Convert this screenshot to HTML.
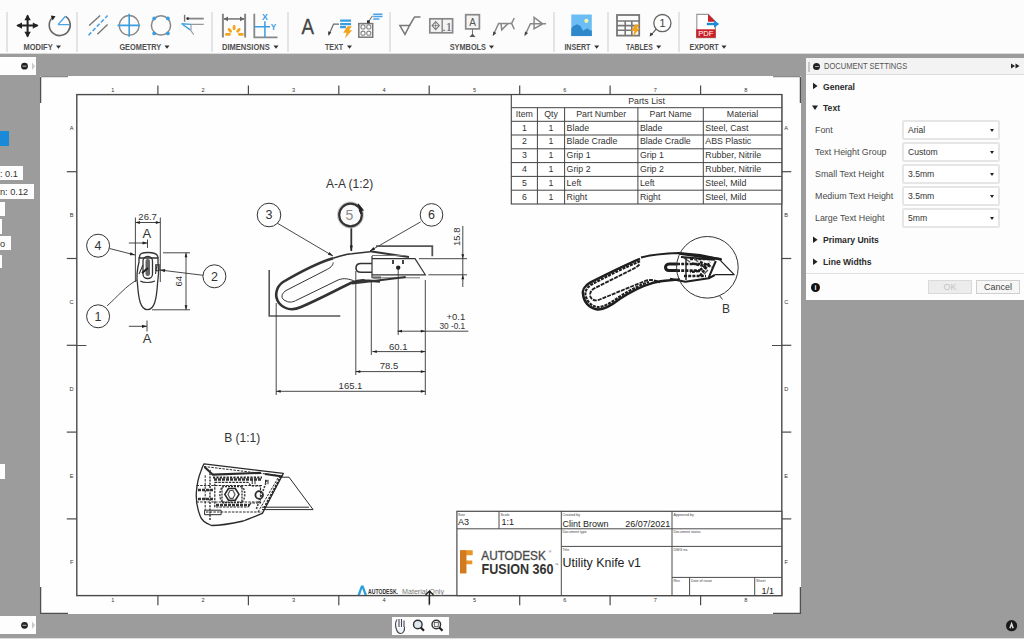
<!DOCTYPE html><html><head><meta charset="utf-8"><style>
*{margin:0;padding:0;box-sizing:border-box}
html,body{width:1024px;height:639px;overflow:hidden;background:#9c9c9c;font-family:"Liberation Sans",sans-serif}
.abs{position:absolute}
#tb{left:0;top:0;width:1024px;height:54px;background:#fcfcfc;border-bottom:1.5px solid #dadada}
.sep{position:absolute;top:12px;width:2px;height:40px;background:#e4e4e4}
.lbl{position:absolute;top:42px;font-size:8.6px;color:#4a4a4a;white-space:nowrap;font-weight:bold}
.lbl:after{content:"";display:inline-block;margin-left:3px;border-left:3px solid transparent;border-right:3px solid transparent;border-top:4px solid #333;vertical-align:2px}
#sheet{left:40px;top:76px;width:760.5px;height:538px;background:#fefefe}
svg text{font-family:"Liberation Sans",sans-serif}
#panel{left:806px;top:58px;width:218px;height:241.7px;background:#fdfdfd}
#ph{position:absolute;left:0;top:0;width:218px;height:17px;background:#f3f3f3;border-bottom:1px solid #dcdcdc}
.pt{position:absolute;font-size:8.9px;color:#4a4a4a;white-space:nowrap}
.pb{color:#2a2a2a;font-size:8.6px}
.pb{font-weight:bold}
.dd{position:absolute;left:96px;width:98px;height:20px;border:2px solid #e6e6e6;background:#fff;font-size:8.6px;color:#333;padding:3.2px 0 0 4px;border-radius:2px}
.dd:after{content:"";position:absolute;right:4px;top:7px;border-left:2.5px solid transparent;border-right:2.5px solid transparent;border-top:3.5px solid #222}
.lb{position:absolute;background:#fdfdfd;font-size:9.2px;color:#333;white-space:nowrap;text-align:right;padding-top:3px;overflow:hidden}
</style></head><body>
<div id="tb" class="abs">
<div class="sep" style="left:6px"></div>
<div class="sep" style="left:76px"></div>
<div class="sep" style="left:211px"></div>
<div class="sep" style="left:287px"></div>
<div class="sep" style="left:389px"></div>
<div class="sep" style="left:553px"></div>
<div class="sep" style="left:607px"></div>
<div class="sep" style="left:678px"></div>
<svg class="abs" style="left:0;top:0" width="1024" height="53"><text x="23.5" y="50.4" font-size="9.4" font-weight="bold" fill="#505050" textLength="29.2" lengthAdjust="spacingAndGlyphs">MODIFY</text><path d="M56 45.6H61L58.5 48.8Z" fill="#333"/><text x="119.4" y="50.4" font-size="9.4" font-weight="bold" fill="#505050" textLength="41.9" lengthAdjust="spacingAndGlyphs">GEOMETRY</text><path d="M164.5 45.6H169.5L167.0 48.8Z" fill="#333"/><text x="222" y="50.4" font-size="9.4" font-weight="bold" fill="#505050" textLength="47.8" lengthAdjust="spacingAndGlyphs">DIMENSIONS</text><path d="M273.5 45.6H278.5L276.0 48.8Z" fill="#333"/><text x="325" y="50.4" font-size="9.4" font-weight="bold" fill="#505050" textLength="18.0" lengthAdjust="spacingAndGlyphs">TEXT</text><path d="M347 45.6H352L349.5 48.8Z" fill="#333"/><text x="449.7" y="50.4" font-size="9.4" font-weight="bold" fill="#505050" textLength="36.3" lengthAdjust="spacingAndGlyphs">SYMBOLS</text><path d="M489 45.6H494L491.5 48.8Z" fill="#333"/><text x="564.4" y="50.4" font-size="9.4" font-weight="bold" fill="#505050" textLength="26.0" lengthAdjust="spacingAndGlyphs">INSERT</text><path d="M594.2 45.6H599.2L596.7 48.8Z" fill="#333"/><text x="626" y="50.4" font-size="9.4" font-weight="bold" fill="#505050" textLength="26.7" lengthAdjust="spacingAndGlyphs">TABLES</text><path d="M656.2 45.6H661.2L658.7 48.8Z" fill="#333"/><text x="689.5" y="50.4" font-size="9.4" font-weight="bold" fill="#505050" textLength="29.2" lengthAdjust="spacingAndGlyphs">EXPORT</text><path d="M721.5 45.6H726.5L724.0 48.8Z" fill="#333"/></svg>
</div>
<svg class="abs" style="left:0;top:0" width="1024" height="53" viewBox="0 0 1024 53">
<g fill="none" stroke-linecap="butt">
<!-- move -->
<path d="M17.5 25.6H37.5M27.6 15.5V36.5" stroke="#222" stroke-width="2"/>
<path d="M16.2 25.6L22 22.4V28.8Z M38.6 25.6L32.8 22.4V28.8Z M27.6 14.4L24.4 20.2H30.8Z M27.6 37.6L24.4 31.8H30.8Z" fill="#222"/>
<!-- rotate -->
<path d="M65.6 16.4A10.5 10.5 0 1 1 52.5 17.5" stroke="#666" stroke-width="1.6"/>
<path d="M50.8 15.5L55.5 16.2L52.6 20.5Z" fill="#222"/>
<path d="M58 24.6L65.4 16.2M58 24.6H69.6" stroke="#4aa3e6" stroke-width="1.4"/>
<!-- centerline -->
<path d="M89.2 25.4L100.1 15.5M97.4 34.3L107.6 24.4" stroke="#777" stroke-width="1.4"/>
<path d="M88.5 35.3L107.6 15.5" stroke="#4aa3e6" stroke-width="1.6" stroke-dasharray="4 2"/>
<!-- center mark -->
<circle cx="129.2" cy="25.4" r="9.9" stroke="#8a8a8a" stroke-width="1.4"/>
<path d="M117.5 25.4H140.1M129.2 13.8V36.7" stroke="#3a9de0" stroke-width="1.6"/>
<!-- bolt circle -->
<circle cx="161" cy="25.4" r="9.6" stroke="#888" stroke-width="1.5"/>
<g fill="#3a9de0"><circle cx="154.2" cy="18.4" r="1.9"/><circle cx="167.9" cy="18.4" r="1.9"/><circle cx="154.2" cy="33.4" r="1.9"/><circle cx="167.9" cy="33.4" r="1.9"/></g>
<!-- edge extension -->
<path d="M184.6 14.8V21.7" stroke="#777" stroke-width="1.4"/>
<path d="M187.7 18.6H203.8" stroke="#888" stroke-width="1.8"/>
<circle cx="187.7" cy="18.6" r="1.4" fill="#333"/>
<path d="M191.1 24.4H203.8M190.4 29.9L193.8 34.7M191 24.4V30" stroke="#999" stroke-width="1.1"/>
<path d="M181.5 23.7L190.4 29.9M181.5 23.7L191 24.4" stroke="#3a9de0" stroke-width="1.4"/>
<!-- dimension -->
<path d="M222.9 13.8V37.4M245.1 13.8V37.4" stroke="#888" stroke-width="2"/>
<path d="M224 18.9H244" stroke="#888" stroke-width="1.8"/>
<path d="M223.5 18.9L228 16.5V21.3Z M244.5 18.9L240 16.5V21.3Z" fill="#666"/>
<g stroke="#f2a41c" stroke-width="2.8" stroke-linecap="round">
<path d="M226.4 34.4H229.4M239.4 34.4H242.4M229 29.4L230.6 31.2M234.1 26.4V28.8M239.2 29.4L237.6 31.2"/>
</g>
<!-- ordinate -->
<path d="M254.3 13.8V37.4H277.5" stroke="#888" stroke-width="1.8"/>
<path d="M264.9 21.3V37.4M254.3 26.8H270" stroke="#3a9de0" stroke-width="1.5"/>
<text x="264.9" y="20" font-size="8.8" font-weight="bold" fill="#3a9de0" text-anchor="middle" stroke="none">X</text>
<text x="273.6" y="29.8" font-size="8.2" font-weight="bold" fill="#3a9de0" text-anchor="middle" stroke="none">Y</text>
<!-- text A -->
<text x="0" y="0" transform="translate(307.8 34.1) scale(0.86 1)" font-size="21.8" fill="#444" text-anchor="middle" stroke="#444" stroke-width="0.35">A</text>
<!-- leader note -->
<path d="M329 34.5L333.6 24.1H339" stroke="#666" stroke-width="1.2"/>
<path d="M328.3 35.8L328.2 31.2L331.3 32.5Z" fill="#333"/>
<path d="M340.1 20.6H351M340.1 24.1H351M340.1 27.2H346" stroke="#3a9de0" stroke-width="2.2"/>
<path d="M347.5 26.3H351.8L349 30.2H352.2L345 38.2L346.6 32.8H343.2Z" fill="#f2a41c"/>
<!-- bolt hole note -->
<rect x="358.8" y="23.6" width="13.9" height="13.6" stroke="#777" stroke-width="1.5"/>
<g stroke="#888" stroke-width="1.1"><circle cx="363" cy="26.9" r="2.1"/><circle cx="368.8" cy="26.9" r="2.1"/><circle cx="363" cy="33.2" r="2.1"/><circle cx="368.8" cy="33.2" r="2.1"/></g>
<path d="M368.5 21.7L372.5 15.8" stroke="#555" stroke-width="1"/>
<rect x="367" y="20.3" width="2.8" height="2.8" fill="#333"/>
<path d="M373.2 14.2H382.5M373.2 16.6H382.5M373.2 19H379.4" stroke="#4aa3e6" stroke-width="1.5"/>
<!-- surface texture -->
<path d="M399.9 25.5H409.5L405 34.4Z" stroke="#777" stroke-width="1.5"/>
<path d="M409.5 25.5L414.6 16.9H420.5" stroke="#777" stroke-width="1.5"/>
<!-- fcf -->
<rect x="429.8" y="18.8" width="22.8" height="14" stroke="#888" stroke-width="1.7" fill="#f3f3f3"/>
<path d="M442.2 18.8V32.8" stroke="#888" stroke-width="1.5"/>
<path d="M435.7 21.5L439.3 25.6L435.7 29.7L432.1 25.6Z" stroke="#777" stroke-width="1.1"/>
<path d="M432.4 25.6H439M435.7 22.3V29" stroke="#777" stroke-width="0.8"/>
<text x="447.3" y="31" font-size="12.5" font-family="Liberation Serif" fill="#555" text-anchor="middle" stroke="none" style="font-family:'Liberation Serif',serif">.1</text>
<!-- datum -->
<rect x="465.7" y="14.7" width="13.7" height="14.2" stroke="#888" stroke-width="1.7" fill="#f3f3f3"/>
<text x="472.5" y="26" font-size="10" fill="#555" text-anchor="middle" stroke="none">A</text>
<path d="M472.5 28.9V34" stroke="#777" stroke-width="1"/>
<path d="M469.5 37H475.5L472.5 33.6Z" fill="#555"/>
<!-- weld -->
<path d="M493.8 34L498.6 23.4H511.6M501 23.4L501.7 29.9L508.2 23.4M511.6 23.4L514.3 18M511.6 23.4L514.3 29.2" stroke="#888" stroke-width="1.5"/>
<path d="M492.6 36.2L493.4 31.4L496.4 32.9Z" fill="#444"/>
<!-- taper -->
<path d="M525.5 34L530.4 23.8H546.1M534.1 17.3L542.7 23.8L534.1 28.6Z" stroke="#888" stroke-width="1.5"/>
<path d="M524.4 36.2L525 31.4L528.1 32.9Z" fill="#444"/>
<!-- image -->
<rect x="571.3" y="14.5" width="20.5" height="21.6" fill="#6cbdf4"/>
<path d="M571.3 28.5L573 26.2L577 24.2L580.5 26L583 30.8L585 29.5L587.5 28.2L590 30.5L591.8 30.2V36.1H571.3Z" fill="#2f88c9"/>
<circle cx="586.4" cy="20.8" r="2.1" fill="#f6f4a8"/>
<!-- table -->
<rect x="617" y="15" width="22.2" height="20.6" stroke="#777" stroke-width="1.8"/>
<path d="M617 21H639.2M617 25.6H639.2M617 30.3H639.2M625.2 21V35.6M631.8 21V35.6" stroke="#777" stroke-width="1.6"/>
<path d="M635.3 24.6H639.6L636.8 28.5H640L632.8 36.5L634.4 31.1H631Z" fill="#f2a41c"/>
<!-- balloon -->
<circle cx="662.4" cy="23.1" r="8.6" stroke="#666" stroke-width="1.3" fill="#fff"/>
<text x="662.4" y="27.3" font-size="11.5" fill="#444" text-anchor="middle" stroke="none">1</text>
<path d="M656.2 29.2L651 35" stroke="#555" stroke-width="1.1"/>
<path d="M649.6 36.6L650.5 32.4L653.2 34.6Z" fill="#333"/>
<!-- pdf -->
<path d="M696.8 14.4H708.2L715.4 21.6V37.6H696.8Z" stroke="#999" stroke-width="1.2" fill="#fff"/>
<path d="M708 13.9L715.6 21.8H708Z" fill="#cc1f26"/>
<rect x="696.2" y="29.3" width="19.4" height="8.4" fill="#cc1f26"/>
<text x="705.9" y="36.3" font-size="7.6" fill="#fff" text-anchor="middle" stroke="none">PDF</text>
<path d="M706.8 24H715" stroke="#1f8ad8" stroke-width="2.4"/>
<path d="M719.2 24L714 20.3V27.7Z" fill="#1f8ad8"/>
</g>
</svg>
<div class="lb" style="left:0px;top:57px;width:36px;height:18px;padding-right:0px"></div>
<div class="lb" style="left:0px;top:131px;width:9px;height:15px;background:#1a8ad8"></div>
<div class="lb" style="left:0px;top:166px;width:23px;height:14px;padding-right:7px">: 0.1</div>
<div class="lb" style="left:0px;top:184px;width:34px;height:15px;padding-right:7px">n: 0.12</div>
<div class="lb" style="left:0px;top:202px;width:5px;height:14px;padding-right:0px"></div>
<div class="lb" style="left:0px;top:219px;width:2px;height:15px;padding-right:0px"></div>
<div class="lb" style="left:0px;top:236px;width:11px;height:14px;padding-right:7px">o</div>
<div class="lb" style="left:0px;top:255px;width:2px;height:13px;padding-right:0px"></div>
<div class="lb" style="left:0px;top:464px;width:5px;height:15px;padding-right:0px"></div>
<div class="lb" style="left:0px;top:616px;width:36px;height:18px;padding-right:0px"></div>
<div class="abs" style="left:0;top:637.5px;width:1024px;height:1.5px;background:#dcdcdc"></div>
<div class="abs" style="left:391.5px;top:617px;width:57px;height:17.5px;background:#fdfdfd"></div>
<svg class="abs" style="left:0;top:0" width="1024" height="639" viewBox="0 0 1024 639">
<path d="M396 628C395 624 396 621 397 619.5M399 627V619M401.5 627V619M404 627V620.5M396 628C397 632 399 633.5 400.5 633.5C403 633.5 405 631 404.5 627" stroke="#445" stroke-width="1.1" fill="#eef3f6"/>
<circle cx="417.8" cy="624.5" r="4.3" stroke="#333" stroke-width="1.4" fill="#dde9f1"/>
<path d="M420.8 627.5L424 630.7" stroke="#222" stroke-width="2.2"/>
<circle cx="436.3" cy="624.5" r="4.3" stroke="#333" stroke-width="1.4" fill="#f3f3f3"/>
<rect x="434.3" y="622.5" width="4" height="4" stroke="#555" stroke-width="0.8" fill="none"/>
<path d="M439.3 627.5L442.5 630.7" stroke="#222" stroke-width="2.2"/>
<circle cx="1011.6" cy="625.7" r="5.6" fill="#1a1a1a"/>
<path d="M1010 628.3L1011.6 623.8L1013.2 628.3" stroke="#ddd" stroke-width="1.5" fill="none"/>
<circle cx="24.5" cy="66.2" r="3.4" fill="#222"/><path d="M22.5 66.2H26.5" stroke="#bbb" stroke-width="1"/>
<path d="M32 62.5V70L35 66.2Z" fill="#c9c9c9"/>
<circle cx="24.5" cy="625.3" r="3.4" fill="#222"/><path d="M22.5 625.3H26.5" stroke="#bbb" stroke-width="1"/>
<path d="M32 621.5V629L35 625.3Z" fill="#c9c9c9"/>
</svg>
<div id="sheet" class="abs"></div>
<div id="panel" class="abs">
  <div id="ph"></div>
  <div class="pt" style="left:18px;top:3px;color:#555;font-size:8.4px;transform:scaleX(0.9);transform-origin:left">DOCUMENT SETTINGS</div>
  <div class="abs" style="left:2px;top:4px;width:2px;height:10px;background:#c8c8c8"></div>
  <div class="abs" style="left:7px;top:5px;width:7px;height:7px;border-radius:50%;background:#222"></div>
  <div class="abs" style="left:8.5px;top:8px;width:4px;height:1.2px;background:#aaa"></div>
  <div class="abs" style="left:0;top:215px;width:218px;height:1px;background:#dedede"></div>
  <div class="abs" style="left:5px;top:225px;width:9px;height:9px;border-radius:50%;background:#111;color:#fff;font-size:7px;font-weight:bold;text-align:center;line-height:9px">i</div>
  <div class="abs" style="left:122px;top:222px;width:44px;height:14px;background:#ececec;border:1px solid #dadada;color:#c4c4c4;font-size:9px;text-align:center;line-height:12px">OK</div>
  <div class="abs" style="left:170px;top:222px;width:44px;height:14px;background:#f6f6f6;border:1px solid #cfcfcf;color:#444;font-size:9px;text-align:center;line-height:12px">Cancel</div>
  <svg class="abs" style="left:0;top:0" width="218" height="241">
    <path d="M205 63.5V68.5L209 66Z M209.5 63.5V68.5L213.5 66Z" transform="translate(0 -58)" fill="#222"/>
    <path d="M7 24.8V31.2L11.6 28Z" fill="#222"/>
    <path d="M6 47.5H12L9 52Z" fill="#222"/>
    <path d="M7 178.6V185L11.6 181.8Z" fill="#222"/>
    <path d="M7 200.6V207L11.6 203.8Z" fill="#222"/>
  </svg>
  <div class="pt pb" style="left:17px;top:24px">General</div>
  <div class="pt pb" style="left:17px;top:45px">Text</div>
  <div class="pt" style="left:9px;top:67px">Font</div>
  <div class="dd" style="top:62px">Arial</div>
  <div class="pt" style="left:9px;top:89px">Text Height Group</div>
  <div class="dd" style="top:84px">Custom</div>
  <div class="pt" style="left:9px;top:111px">Small Text Height</div>
  <div class="dd" style="top:106px">3.5mm</div>
  <div class="pt" style="left:9px;top:133px">Medium Text Height</div>
  <div class="dd" style="top:128px">3.5mm</div>
  <div class="pt" style="left:9px;top:155px">Large Text Height</div>
  <div class="dd" style="top:150px">5mm</div>
  <div class="pt pb" style="left:17px;top:177px">Primary Units</div>
  <div class="pt pb" style="left:17px;top:199px">Line Widths</div>
</div>
<svg class="abs" style="left:0;top:0" width="1024" height="639" viewBox="0 0 1024 639"><g stroke="#505050" stroke-width="1.3" fill="none"><path d="M40.6 103V77"/><path d="M800.4 77V103"/><path d="M40.6 587V613.4H68"/><path d="M773 613.4H800.4V587"/><path d="M40.6 76.6H68M773 76.6H800.4" stroke="#8a8a8a"/></g><rect x="76.8" y="94.6" width="705.0" height="501.0" fill="none" stroke="#4a4a4a" stroke-width="1.4"/><g stroke="#4a4a4a" stroke-width="1.2"><line x1="157.9" y1="85.4" x2="157.9" y2="94.6"/><line x1="157.9" y1="595.6" x2="157.9" y2="605.3"/><line x1="248.4" y1="85.4" x2="248.4" y2="94.6"/><line x1="248.4" y1="595.6" x2="248.4" y2="605.3"/><line x1="338.8" y1="85.4" x2="338.8" y2="94.6"/><line x1="338.8" y1="595.6" x2="338.8" y2="605.3"/><line x1="429.2" y1="85.4" x2="429.2" y2="94.6"/><line x1="429.2" y1="595.6" x2="429.2" y2="605.3"/><line x1="519.7" y1="85.4" x2="519.7" y2="94.6"/><line x1="519.7" y1="595.6" x2="519.7" y2="605.3"/><line x1="610.1" y1="85.4" x2="610.1" y2="94.6"/><line x1="610.1" y1="595.6" x2="610.1" y2="605.3"/><line x1="700.6" y1="85.4" x2="700.6" y2="94.6"/><line x1="700.6" y1="595.6" x2="700.6" y2="605.3"/><line x1="66.8" y1="171.7" x2="76.8" y2="171.7"/><line x1="781.8" y1="171.7" x2="791.3" y2="171.7"/><line x1="66.8" y1="258.5" x2="76.8" y2="258.5"/><line x1="781.8" y1="258.5" x2="791.3" y2="258.5"/><line x1="66.8" y1="345.3" x2="76.8" y2="345.3"/><line x1="781.8" y1="345.3" x2="791.3" y2="345.3"/><line x1="66.8" y1="432.1" x2="76.8" y2="432.1"/><line x1="781.8" y1="432.1" x2="791.3" y2="432.1"/><line x1="66.8" y1="518.9" x2="76.8" y2="518.9"/><line x1="781.8" y1="518.9" x2="791.3" y2="518.9"/><line x1="76" y1="345.5" x2="86.4" y2="345.5" stroke-width="1"/><line x1="772" y1="345.5" x2="782.5" y2="345.5" stroke-width="1"/></g><g font-size="5.6" fill="#333" text-anchor="middle"><text x="112.7" y="91.8">1</text><text x="112.7" y="602.4">1</text><text x="203.1" y="91.8">2</text><text x="203.1" y="602.4">2</text><text x="293.6" y="91.8">3</text><text x="293.6" y="602.4">3</text><text x="384.0" y="91.8">4</text><text x="384.0" y="602.4">4</text><text x="474.5" y="91.8">5</text><text x="474.5" y="602.4">5</text><text x="564.9" y="91.8">6</text><text x="564.9" y="602.4">6</text><text x="655.4" y="91.8">7</text><text x="655.4" y="602.4">7</text><text x="745.8" y="91.8">8</text><text x="745.8" y="602.4">8</text><text x="71.6" y="130.3">A</text><text x="786.2" y="130.3">A</text><text x="71.6" y="217.1">B</text><text x="786.2" y="217.1">B</text><text x="71.6" y="303.9">C</text><text x="786.2" y="303.9">C</text><text x="71.6" y="390.7">D</text><text x="786.2" y="390.7">D</text><text x="71.6" y="477.5">E</text><text x="786.2" y="477.5">E</text><text x="71.6" y="564.3">F</text><text x="786.2" y="564.3">F</text></g><g stroke="#333" stroke-width="0.9" fill="none"><line x1="135.4" y1="217.5" x2="135.4" y2="282"/><line x1="160.3" y1="217.5" x2="160.3" y2="282"/><line x1="135.4" y1="222.5" x2="160.3" y2="222.5"/><line x1="163" y1="252.8" x2="190" y2="252.8"/><line x1="152" y1="309.8" x2="190" y2="309.8"/><line x1="186" y1="252.8" x2="186" y2="309.8"/><line x1="128.8" y1="243" x2="147.5" y2="243"/><line x1="147.5" y1="239.5" x2="147.5" y2="248"/><line x1="128.8" y1="326.3" x2="147" y2="326.3"/><line x1="147" y1="320.5" x2="147" y2="331.5"/><path d="M109.5 248.5L135 255"/><path d="M225.3 278L160 270"/><path d="M107 306C118 296 126 286 137 280"/><path stroke-width="1.3" d="M139.5 258C139 253 143 252.5 148 252.5C153 252.5 158 253 158 258"/><path stroke-width="1.3" d="M139 258L139 262C137 270 136.5 278 137.5 284C138.5 299 140.5 309.6 147.5 309.6C154.5 309.6 156.5 299 157.5 284C158.5 278 159 270 158 262L158 258Z"/><path stroke-width="1.1" d="M140.3 281C143 283 151 283 155 281"/><path stroke-width="1.1" d="M139 274L143 265M155.5 274L157 265"/><rect x="143" y="256.5" width="9.5" height="22" rx="4.5" stroke-width="1.3"/><rect x="155.7" y="264.7" width="3.5" height="6" stroke-width="1"/></g><rect x="145.5" y="259" width="4.5" height="17" rx="2" fill="#666"/><path d="M142 273L148 268" stroke="#222" stroke-width="2"/><path d="M135.0 255.0L129.8 255.3L130.5 252.2Z" fill="#222"/><path d="M160.0 270.0L165.2 269.0L164.8 272.2Z" fill="#222"/><path d="M147.5 243.0L142.5 244.6L142.5 241.4Z" fill="#222"/><path d="M147.0 326.3L142.0 327.9L142.0 324.7Z" fill="#222"/><path d="M186.0 252.8L187.4 257.3L184.6 257.3Z" fill="#222"/><path d="M186.0 309.8L184.6 305.3L187.4 305.3Z" fill="#222"/><path d="M135.4 222.5L139.9 221.1L139.9 223.9Z" fill="#222"/><path d="M160.3 222.5L155.8 223.9L155.8 221.1Z" fill="#222"/><g fill="#333" text-anchor="middle"><text x="147.6" y="220.3" font-size="9.5">26.7</text><text x="146.9" y="238" font-size="13">A</text><text x="147" y="343.3" font-size="13">A</text><text transform="translate(182.2 281.3) rotate(-90)" font-size="9.5">64</text></g><circle cx="98.1" cy="245.7" r="11.5" fill="#fff" stroke="#333" stroke-width="1"/><text x="98.1" y="250.1" font-size="12.5" fill="#333" text-anchor="middle">4</text><circle cx="98.1" cy="316.3" r="11.5" fill="#fff" stroke="#333" stroke-width="1"/><text x="98.1" y="320.7" font-size="12.5" fill="#333" text-anchor="middle">1</text><circle cx="214.4" cy="276.3" r="11.5" fill="#fff" stroke="#333" stroke-width="1"/><text x="214.4" y="280.7" font-size="12.5" fill="#333" text-anchor="middle">2</text><text x="349.6" y="187.5" font-size="12" fill="#333" text-anchor="middle">A-A (1:2)</text><g stroke="#333" stroke-width="0.9" fill="none"><path d="M277 223L333 256"/><path d="M351.3 226.5V251" stroke-width="1.8"/><path d="M420.6 221.9L370 250.9"/><path d="M269.2 270V316H340.3" stroke="#555" stroke-width="1.6"/><path d="M376 246.2H432.3V256.3" stroke="#555" stroke-width="1.8"/><path d="M276.2 303V395M355.8 271V375M371.3 280V355M398.2 268V335M425.3 280V395"/><path d="M419 258.7H467M428.4 274.8H467M462.8 226V287"/><path d="M397.5 331.2H468.3M372.3 351.6H425.3M355.8 371.6H425.3M276.2 391.3H425.3"/><path stroke-width="2.6" d="M333.2 258.2C320 262 300 272 283 282C276 287 274 296 279 303C284 309 292 311 301 307C320 299 340 288 351.5 282.8C356 281 360 280 365 280.5L380 281.5"/><path stroke-width="1.4" d="M333.2 258.2C340 256 346 254 352 253.8L370 251.8"/><path stroke-width="1" d="M333.2 262.4C333 266 330 268 326 270L287 290C281 293 280 299 286 301C290 303 293 302 297 300L336 281C342 278 346 278 353.7 280.7"/><path stroke-width="1.6" d="M372 263.5H361C357 263.5 356 265.5 356 268C356 270.5 357 272.3 361 272.3H372"/><path stroke-width="2" d="M370 251.3L409 257.1"/><path stroke-width="1.2" d="M372 258.7H415L425.3 274.8H372M372 256V278"/><path stroke-width="1" stroke="#777" d="M372 255.5H405M372 277.8H420"/><path stroke-width="2.2" stroke="#666" d="M372.5 277.5H381"/><path stroke-width="2" d="M352 283.5L377.6 280.6L405.7 276.9"/></g><circle cx="398.2" cy="267.6" r="2.2" fill="#222"/><rect x="392" y="260" width="2" height="4" fill="#444"/><rect x="402" y="260" width="2" height="4" fill="#444"/><path d="M333.0 256.0L327.9 254.8L329.5 252.1Z" fill="#222"/><path d="M351.3 251.5L349.8 245.5L352.8 245.5Z" fill="#222"/><path d="M370.0 250.9L373.5 247.0L375.1 249.8Z" fill="#222"/><path d="M462.8 258.7L461.4 254.2L464.2 254.2Z" fill="#222"/><path d="M462.8 274.8L464.2 279.3L461.4 279.3Z" fill="#222"/><path d="M397.5 331.2L402.0 329.8L402.0 332.6Z" fill="#222"/><path d="M425.3 331.2L420.8 332.6L420.8 329.8Z" fill="#222"/><path d="M372.3 351.6L376.8 350.2L376.8 353.0Z" fill="#222"/><path d="M425.3 351.6L420.8 353.0L420.8 350.2Z" fill="#222"/><path d="M355.8 371.6L360.3 370.2L360.3 373.0Z" fill="#222"/><path d="M425.3 371.6L420.8 373.0L420.8 370.2Z" fill="#222"/><path d="M276.2 391.3L280.7 389.9L280.7 392.7Z" fill="#222"/><path d="M425.3 391.3L420.8 392.7L420.8 389.9Z" fill="#222"/><g fill="#333" font-size="9.5" text-anchor="middle"><text transform="translate(459.8 236.8) rotate(-90)">15.8</text><text x="398.2" y="349.5">60.1</text><text x="389" y="369.2">78.5</text><text x="350.5" y="389">165.1</text><text x="465.2" y="320" text-anchor="end">+0.1</text><text x="439.4" y="329.2" text-anchor="start" textLength="25.8" lengthAdjust="spacingAndGlyphs">30 -0.1</text></g><circle cx="269" cy="215" r="11.8" fill="#fff" stroke="#333" stroke-width="1"/><text x="269" y="219.4" font-size="12.5" fill="#333" text-anchor="middle">3</text><circle cx="431.5" cy="214.9" r="11.3" fill="#fff" stroke="#333" stroke-width="1"/><text x="431.5" y="219.3" font-size="12.5" fill="#333" text-anchor="middle">6</text><circle cx="350.5" cy="215" r="12.8" fill="none" stroke="#c8c8c8" stroke-width="1.2"/><circle cx="350.5" cy="215" r="11.3" fill="#fafafa" stroke="#333" stroke-width="2.2"/><text x="349.5" y="220" font-size="14" fill="#8a8a8a" text-anchor="middle">5</text><path d="M358 204L363 210L359.5 210.5L361 214" stroke="#222" stroke-width="1.2" fill="#222"/><g stroke="#1e1e1e" fill="none" stroke-linejoin="round"><path stroke-width="2.4" d="M640 258.8C625 265 605 275 590 282.6C584 286 582 291 583.1 295C584 302 589 308 597.5 309.5C603 310 612 305 620 298.8C632 291 642 286 650 283.8C655 282 660 281.3 665 280.8L680 279.4"/><path stroke-width="2.2" stroke-dasharray="3 1" d="M640 261.3C625 267.2 606 276.8 591.5 284.5C586.5 287.5 585 291.5 585.5 295C586.5 300.5 590.5 305.8 597.5 307.2C602.5 307.5 611 303 619 297C631 289.5 641 284.5 649 282"/><path stroke-width="2" d="M641 257.5C650 255 665 253.5 679 253L700 255L721.9 259.4"/><path stroke-width="1.8" stroke-dasharray="4 1" d="M639.5 264.5C637 267 633 269 629 271L594 288.5C590 291 589.5 294.5 590.5 297C592 300 595 301 598.5 300L645 281C650 279.3 655 279.8 660 282.5"/><path stroke-width="2.6" d="M679 253.5L720.9 259.2"/><path stroke-width="2" d="M681 257L714.8 259.8M715.8 261L708.7 277.7M670 278.8L685.3 281.8L708.7 278.3L714.8 275"/><path stroke-width="3" d="M677 264H669C666.5 264 665.5 266 665.5 267.3C665.5 269 666.5 270.6 669 270.6H677"/><path stroke-width="2.6" stroke-dasharray="3 1.2" d="M677 264H700M677 270.6H700M692 263.5L705 266L699 271L690 272M700 262L712 267M700 276L710 262M684 276H706M690 259H712"/><path stroke-width="1.5" stroke="#555" d="M684 258L690 262M694 258L698 262M704 274L708 270"/><path stroke-width="1.4" d="M686 258V280"/><path stroke-width="1.2" d="M718.9 258.9L734.1 274.7H714.8"/><circle cx="707.4" cy="267.3" r="30.8" stroke="#333" stroke-width="1"/><path stroke="#333" stroke-width="1" d="M719.4 295.5L722.5 299.5"/></g><text x="726" y="313.3" font-size="12" fill="#333" text-anchor="middle">B</text><text x="242.2" y="441.5" font-size="12" fill="#333" text-anchor="middle">B (1:1)</text><g stroke="#2a2a2a" fill="none" stroke-linejoin="round"><path stroke-width="1.3" d="M204 463.9L283.3 473.4L262.4 513.4C256 516 249 519 243.3 521C232 523.5 220 525.5 211.6 525.5C205 523 201 519 200.2 516C197 508 196 500 196.3 493C197 483 198.5 477 200.8 471.5C202 468 203 465.5 204 463.9Z"/><path stroke-width="2.2" d="M204.5 467L212.9 474.7L261 472.8M265 474L282 476.5"/><path stroke-width="1.8" stroke-dasharray="2.2 1.2" d="M213 477.5H262M281 476L263 510"/><path stroke-width="1" stroke-dasharray="2.5 1.2" d="M205.2 475.3V510M196.5 485.5H262M196.5 502H260M206 512H262M278 478L258 512M204 466.5L283 476"/><path stroke-width="1.2" stroke-dasharray="2.5 1" d="M214.8 482.3H248L251 486H260.5V503H251L248 507H214.8Z"/><path stroke-width="1.6" d="M228.5 488.5L235.3 488.5L239 494.4L235.3 500.3L228.5 500.3L224.8 494.4Z"/><path stroke-width="1.3" stroke-dasharray="2 1" d="M222 486.5H242V502.5H222Z"/><circle cx="259.2" cy="495" r="3.8" stroke-width="1.8"/><path stroke-width="1" d="M204.6 510.2H221.1V514.7H204.6ZM252.2 479.8V484.2M255 479.8V484.2M265.5 479.8V484.2M268 479.8V484.2"/><path stroke-width="1" d="M278.9 477.2H289L313.1 509.6H262M262 507.2H309"/><path stroke-width="2.4" stroke-dasharray="3 1" stroke="#333" d="M214 479.5H262M198 490H214M198 499H214M216 505H250"/><path stroke-width="1.6" stroke-dasharray="2 1.2" stroke="#444" d="M224 486C219 488 218 500 224 503M241 486C246 488 246 500 241 503M210 470V520M267 480L256 510"/><path stroke-width="1.2" stroke="#555" d="M230 490.5L233 490.5L235 494.4L233 498.3L230 498.3L228 494.4Z"/></g><g stroke="#444" stroke-width="1.1" fill="#fff"><rect x="511.3" y="94.6" width="270.49999999999994" height="109.4"/></g><g stroke="#444" stroke-width="1.0"><line x1="511.3" y1="107.7" x2="781.8" y2="107.7"/><line x1="511.3" y1="121.3" x2="781.8" y2="121.3"/><line x1="511.3" y1="135.0" x2="781.8" y2="135.0"/><line x1="511.3" y1="148.8" x2="781.8" y2="148.8"/><line x1="511.3" y1="162.6" x2="781.8" y2="162.6"/><line x1="511.3" y1="176.4" x2="781.8" y2="176.4"/><line x1="511.3" y1="190.2" x2="781.8" y2="190.2"/><line x1="537.4" y1="107.7" x2="537.4" y2="204.0"/><line x1="564.6" y1="107.7" x2="564.6" y2="204.0"/><line x1="637.9" y1="107.7" x2="637.9" y2="204.0"/><line x1="703.3" y1="107.7" x2="703.3" y2="204.0"/></g><g font-size="8.8" fill="#333"><text x="646.5" y="104.3" text-anchor="middle">Parts List</text><text x="524.4" y="117.2" text-anchor="middle">Item</text><text x="551.0" y="117.2" text-anchor="middle">Qty</text><text x="601.2" y="117.2" text-anchor="middle">Part Number</text><text x="670.6" y="117.2" text-anchor="middle">Part Name</text><text x="742.5" y="117.2" text-anchor="middle">Material</text><text x="524.4" y="130.6" text-anchor="middle">1</text><text x="551.0" y="130.6" text-anchor="middle">1</text><text x="566.6" y="130.6">Blade</text><text x="639.9" y="130.6">Blade</text><text x="705.3" y="130.6">Steel, Cast</text><text x="524.4" y="144.3" text-anchor="middle">2</text><text x="551.0" y="144.3" text-anchor="middle">1</text><text x="566.6" y="144.3">Blade Cradle</text><text x="639.9" y="144.3">Blade Cradle</text><text x="705.3" y="144.3">ABS Plastic</text><text x="524.4" y="158.1" text-anchor="middle">3</text><text x="551.0" y="158.1" text-anchor="middle">1</text><text x="566.6" y="158.1">Grip 1</text><text x="639.9" y="158.1">Grip 1</text><text x="705.3" y="158.1">Rubber, Nitrile</text><text x="524.4" y="171.9" text-anchor="middle">4</text><text x="551.0" y="171.9" text-anchor="middle">1</text><text x="566.6" y="171.9">Grip 2</text><text x="639.9" y="171.9">Grip 2</text><text x="705.3" y="171.9">Rubber, Nitrile</text><text x="524.4" y="185.7" text-anchor="middle">5</text><text x="551.0" y="185.7" text-anchor="middle">1</text><text x="566.6" y="185.7">Left</text><text x="639.9" y="185.7">Left</text><text x="705.3" y="185.7">Steel, Mild</text><text x="524.4" y="199.5" text-anchor="middle">6</text><text x="551.0" y="199.5" text-anchor="middle">1</text><text x="566.6" y="199.5">Right</text><text x="639.9" y="199.5">Right</text><text x="705.3" y="199.5">Steel, Mild</text></g><rect x="456.9" y="511.3" width="324.9" height="84.30000000000001" fill="#fff" stroke="#4a4a4a" stroke-width="1.2"/><g stroke="#4a4a4a" stroke-width="1.0"><line x1="456.9" y1="528.8" x2="781.8" y2="528.8"/><line x1="561.3" y1="546.4" x2="781.8" y2="546.4"/><line x1="672" y1="577.4" x2="781.8" y2="577.4"/><line x1="499" y1="511.3" x2="499" y2="528.8"/><line x1="561.3" y1="511.3" x2="561.3" y2="595.6"/><line x1="672" y1="511.3" x2="672" y2="595.6"/><line x1="689.6" y1="577.4" x2="689.6" y2="595.6"/><line x1="754.7" y1="577.4" x2="754.7" y2="595.6"/></g><g font-size="3.6" fill="#444"><text x="458" y="515.5">Size</text><text x="500.5" y="515.5">Scale</text><text x="562.5" y="515.5">Created by</text><text x="673.5" y="515.5">Approved by</text><text x="562.5" y="533">Document type</text><text x="673.5" y="533">Document status</text><text x="562.5" y="550.5">Title</text><text x="673.5" y="550.5">DWG no.</text><text x="673.5" y="581.5">Rev.</text><text x="691" y="581.5">Date of issue</text><text x="756" y="581.5">Sheet</text></g><g font-size="9" fill="#222"><text x="458" y="524.5">A3</text><text x="501.5" y="524.5">1:1</text><text x="562.5" y="527">Clint Brown</text><text x="670.3" y="527" text-anchor="end">26/07/2021</text><text x="774" y="594" text-anchor="end">1/1</text></g><text x="562.5" y="566.5" font-size="12.4" fill="#222">Utility Knife v1</text><path d="M460 550.3H472.7V555.2H466.3V560.4H472.3V564.3H466.3V573.3H460Z" fill="#e8952a"/><path d="M460 550.3H466.3V573.3H460Z" fill="#d27a1e"/><text x="481.3" y="559.9" font-size="13.4" fill="#4a4a4a" stroke="#4a4a4a" stroke-width="0.35" textLength="64.5" lengthAdjust="spacingAndGlyphs">AUTODESK</text><text x="548.5" y="553" font-size="4" fill="#555">®</text><text x="481.5" y="573.8" font-size="14" font-weight="bold" fill="#333" textLength="72" lengthAdjust="spacingAndGlyphs">FUSION 360</text><text x="554.5" y="566" font-size="4" fill="#555">™</text><path d="M357.5 595L361 585.5H363.5L367 595H364.5L362.2 588.5L360 595Z" fill="#2a9fd8"/><text x="368" y="594" font-size="7.4" font-weight="bold" fill="#333" textLength="30" lengthAdjust="spacingAndGlyphs">AUTODESK.</text><text x="402" y="594" font-size="6.5" fill="#777" textLength="42" lengthAdjust="spacingAndGlyphs">Material Only</text><path d="M429.5 604V591M425.5 595L429.5 591L433.5 595" stroke="#222" stroke-width="1.3" fill="none"/></svg>
</body></html>
